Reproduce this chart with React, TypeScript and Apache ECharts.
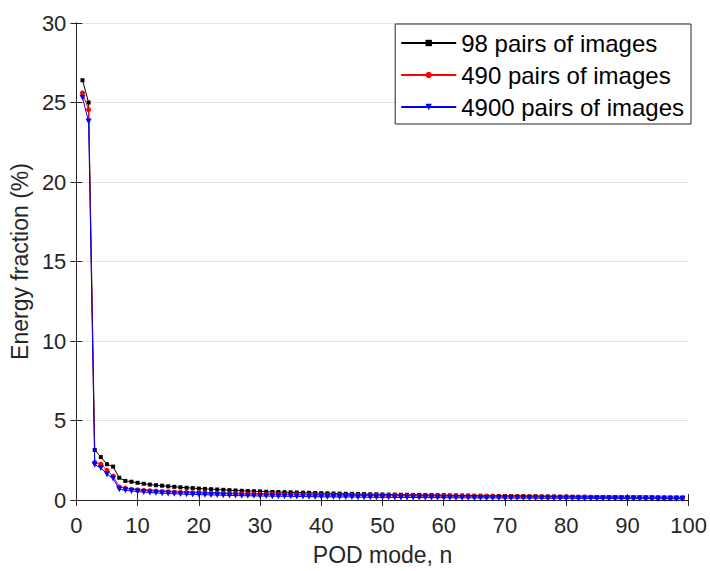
import React, { useEffect, useRef } from "react";
import * as echarts from "echarts";

const modes: number[] = Array.from({ length: 99 }, (_, i) => i + 1);

const pairs98: number[] = [
  26.4, 25.0, 3.15, 2.7, 2.25, 2.1, 1.4, 1.2, 1.15, 1.08,
  1.02, 0.97, 0.93, 0.9, 0.86, 0.83, 0.8, 0.77, 0.75, 0.72,
  0.7, 0.68, 0.66, 0.64, 0.62, 0.6, 0.58, 0.57, 0.55, 0.54,
  0.52, 0.51, 0.5, 0.49, 0.48, 0.47, 0.46, 0.45, 0.44, 0.43,
  0.42, 0.41, 0.4, 0.39, 0.39, 0.38, 0.37, 0.36, 0.36, 0.35,
  0.34, 0.34, 0.33, 0.33, 0.32, 0.32, 0.31, 0.31, 0.3, 0.3,
  0.29, 0.29, 0.28, 0.28, 0.27, 0.27, 0.26, 0.26, 0.25, 0.25,
  0.24, 0.24, 0.24, 0.23, 0.23, 0.22, 0.22, 0.22, 0.21, 0.21,
  0.2, 0.2, 0.2, 0.19, 0.19, 0.19, 0.18, 0.18, 0.18, 0.17,
  0.17, 0.17, 0.16, 0.16, 0.16, 0.15, 0.15, 0.15, 0.14,
];

const pairs490: number[] = [
  25.6, 24.55, 2.37, 2.25, 1.87, 1.5, 0.83, 0.75, 0.68, 0.64,
  0.61, 0.58, 0.56, 0.54, 0.52, 0.5, 0.49, 0.47, 0.46, 0.45,
  0.44, 0.43, 0.42, 0.41, 0.4, 0.39, 0.38, 0.37, 0.37, 0.36,
  0.35, 0.35, 0.34, 0.34, 0.33, 0.33, 0.32, 0.32, 0.31, 0.31,
  0.3, 0.3, 0.3, 0.29, 0.29, 0.29, 0.28, 0.28, 0.28, 0.27,
  0.27, 0.27, 0.26, 0.26, 0.26, 0.25, 0.25, 0.25, 0.24, 0.24,
  0.24, 0.23, 0.23, 0.23, 0.23, 0.22, 0.22, 0.22, 0.21, 0.21,
  0.21, 0.21, 0.2, 0.2, 0.2, 0.2, 0.19, 0.19, 0.19, 0.19,
  0.18, 0.18, 0.18, 0.18, 0.17, 0.17, 0.17, 0.17, 0.16, 0.16,
  0.16, 0.16, 0.15, 0.15, 0.15, 0.15, 0.14, 0.14, 0.14,
];

const pairs4900: number[] = [
  25.3, 23.8, 2.22, 2.02, 1.62, 1.35, 0.67, 0.62, 0.57, 0.53,
  0.5, 0.47, 0.45, 0.43, 0.41, 0.39, 0.38, 0.36, 0.35, 0.34,
  0.33, 0.32, 0.31, 0.3, 0.29, 0.28, 0.27, 0.27, 0.26, 0.25,
  0.25, 0.24, 0.24, 0.23, 0.23, 0.22, 0.22, 0.21, 0.21, 0.2,
  0.2, 0.2, 0.19, 0.19, 0.19, 0.18, 0.18, 0.18, 0.17, 0.17,
  0.17, 0.16, 0.16, 0.16, 0.16, 0.15, 0.15, 0.15, 0.15, 0.14,
  0.14, 0.14, 0.14, 0.14, 0.13, 0.13, 0.13, 0.13, 0.13, 0.12,
  0.12, 0.12, 0.12, 0.12, 0.12, 0.11, 0.11, 0.11, 0.11, 0.11,
  0.11, 0.1, 0.1, 0.1, 0.1, 0.1, 0.1, 0.09, 0.09, 0.09,
  0.09, 0.09, 0.09, 0.09, 0.08, 0.08, 0.08, 0.08, 0.08,
];

const seriesNames: string[] = ["98 pairs of images", "490 pairs of images", "4900 pairs of images"];

const AXIS = "#262626";
const FONT = "'Liberation Sans', Arial, Helvetica, sans-serif";

export default function App() {
  const ref = useRef<HTMLDivElement>(null);
  useEffect(() => {
    if (!ref.current) return;
    const chart = echarts.init(ref.current, undefined, { renderer: "svg" });
    const mk = (vals: number[]) => vals.map((v, i) => [modes[i], v]);
    const hiddenAxisCommon = {
      axisLine: { show: true, lineStyle: { color: AXIS, width: 1 } },
      axisTick: { show: true, inside: true, length: 6, lineStyle: { color: AXIS } },
      axisLabel: { show: false },
      splitLine: { show: false },
    };
    chart.setOption({
      animation: false,
      backgroundColor: "#ffffff",
      textStyle: { fontFamily: FONT },
      grid: { left: 76, right: 18, top: 23, bottom: 67, containLabel: false },
      legend: {
        orient: "vertical",
        right: 19,
        top: 24,
        data: seriesNames,
        backgroundColor: "#ffffff",
        borderColor: AXIS,
        borderWidth: 1,
        borderRadius: 0,
        padding: [7, 7, 5, 5],
        itemWidth: 55,
        itemHeight: 8,
        itemGap: 8,
        textStyle: { fontSize: 24, color: "#000000", fontFamily: FONT, lineHeight: 24 },
      },
      xAxis: [
        {
          type: "value",
          min: 0,
          max: 100,
          interval: 10,
          name: "POD mode, n",
          nameLocation: "middle",
          nameGap: 43,
          nameTextStyle: { fontSize: 23, color: AXIS, fontFamily: FONT },
          axisLine: { show: true, onZero: false, lineStyle: { color: AXIS, width: 1 } },
          axisTick: { show: true, inside: true, length: 6, lineStyle: { color: AXIS } },
          axisLabel: { fontSize: 22, color: AXIS, margin: 14, fontFamily: FONT },
          splitLine: { show: false },
        },
        {
          type: "value",
          position: "top",
          min: 0,
          max: 100,
          interval: 10,
          ...hiddenAxisCommon,
        },
      ],
      yAxis: [
        {
          type: "value",
          min: 0,
          max: 30,
          interval: 5,
          name: "Energy fraction (%)",
          nameLocation: "middle",
          nameGap: 40,
          nameTextStyle: { fontSize: 23, color: AXIS, fontFamily: FONT },
          axisLine: { show: true, onZero: false, lineStyle: { color: AXIS, width: 1 } },
          axisTick: { show: true, inside: true, length: 6, lineStyle: { color: AXIS } },
          axisLabel: { fontSize: 22, color: AXIS, margin: 10, fontFamily: FONT },
          splitLine: { show: true, lineStyle: { color: "#e3e3e3", width: 1 } },
        },
        {
          type: "value",
          position: "right",
          min: 0,
          max: 30,
          interval: 5,
          ...hiddenAxisCommon,
        },
      ],
      series: [
        {
          name: seriesNames[0],
          type: "line",
          data: mk(pairs98),
          symbol: "rect",
          symbolSize: 4,
          showSymbol: true,
          lineStyle: { color: "#000000", width: 1 },
          itemStyle: { color: "#000000" },
          z: 2,
        },
        {
          name: seriesNames[1],
          type: "line",
          data: mk(pairs490),
          symbol: "circle",
          symbolSize: 5,
          showSymbol: true,
          lineStyle: { color: "#ff0000", width: 1 },
          itemStyle: { color: "#ff0000" },
          z: 3,
        },
        {
          name: seriesNames[2],
          type: "line",
          data: mk(pairs4900),
          symbol: "triangle",
          symbolRotate: 180,
          symbolSize: 6,
          showSymbol: true,
          lineStyle: { color: "#0000ff", width: 1 },
          itemStyle: { color: "#0000ff" },
          z: 4,
        },
      ],
    });
    return () => chart.dispose();
  }, []);
  return <div ref={ref} style={{ width: 710, height: 571, position: "absolute", left: 0, top: 0 }} />;
}
